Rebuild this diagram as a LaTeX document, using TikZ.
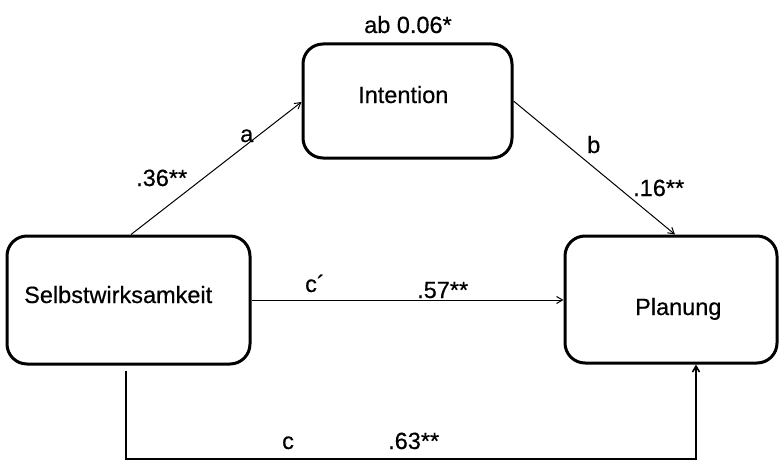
\documentclass[tikz,border=0pt]{standalone}
\usepackage{fontspec}
\setmainfont{Liberation Sans}[UprightFeatures={FakeBold=0.5}]
\usetikzlibrary{arrows.meta}
\begin{document}
\begin{tikzpicture}[x=1pt,y=-1pt,
  varbox/.style={draw,line width=3pt,rounded corners=20pt,inner sep=0pt},
  txt/.style={font=\fontsize{23.5}{27}\selectfont,inner sep=0pt,anchor=base west},
  path/.style={line width=1pt,-{Straight Barb[length=6pt,width=7pt]}},
  direct/.style={line width=1.6pt,-{Straight Barb[length=6pt,width=7pt]}}]
\useasboundingbox (0,0) rectangle (779,460);

% the three variables
\node[varbox,minimum width=209pt,minimum height=114pt] (I) at (407.5,101) {};
\node[varbox,minimum width=243pt,minimum height=128pt] (S) at (128.5,300) {};
\node[varbox,minimum width=212pt,minimum height=127pt] (P) at (671,299.5) {};

\node[txt] (tI) at (358,103) {Intention};
\node[txt] (tS) at (24,303) {Selbstwirksamkeit};
\node[txt] (tP) at (635,315) {Planung};
\node[txt] (ab) at (364,33) {ab 0.06*};

% connector end points
\coordinate (a0) at (131,236);
\coordinate (a1) at (303,102);
\coordinate (b1) at (675,236);
\coordinate (c1) at (126,459);
\coordinate (c2) at (696,459);

% a and b paths
\draw[path] (S.north -| a0) -- (I.west |- a1);
\draw[path] (I.east) -- (P.north -| b1);
% direct path c'
\draw[path] (S.east) -- (P.west |- S.east);
% total effect c
\draw[direct,shorten <=5pt] (S.south -| c1) -- (c1) -- (c2) -- (P.south -| c2);

% path coefficients
\node[txt] (la) at (240,142) {a};
\node[txt] (va) at (136,186) {.36**};
\node[txt] (lb) at (587,153) {b};
\node[txt] (vb) at (633,196) {.16**};
\node[txt] (lcp) at (305,292) {c´};
\node[txt] (vcp) at (417,298) {.57**};
\node[txt] (lc) at (282,449) {c};
\node[txt] (vc) at (388,449) {.63**};
\end{tikzpicture}
\end{document}
